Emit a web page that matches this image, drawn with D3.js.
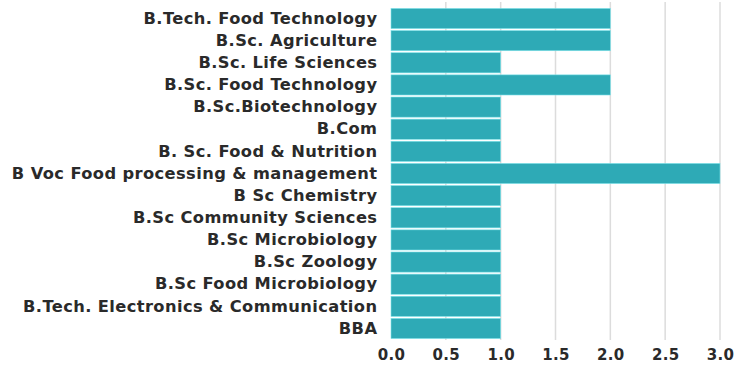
<!DOCTYPE html>
<html><head><meta charset="utf-8">
<script src="https://cdn.jsdelivr.net/npm/d3@7"></script>
<style>body{margin:0;background:#fff}svg{display:block}</style>
</head><body>
<svg id="c" width="751" height="366"></svg>
<script>
const categories = ["B.Tech. Food Technology","B.Sc. Agriculture","B.Sc. Life Sciences","B.Sc. Food Technology","B.Sc.Biotechnology","B.Com","B. Sc. Food & Nutrition","B Voc Food processing & management","B Sc Chemistry","B.Sc Community Sciences","B.Sc Microbiology","B.Sc Zoology","B.Sc Food Microbiology","B.Tech. Electronics & Communication","BBA"];
const values = [2,2,1,2,1,1,1,3,1,1,1,1,1,1,1];
const ticks = [0,0.5,1,1.5,2,2.5,3];

(function(){
const svg = d3.select("#c");
const mLeft = 391, mRight = 720, mTop = 8, mBottom = 339;
const x = d3.scaleLinear().domain([0,3]).range([mLeft,mRight]);
const y = d3.scaleBand().domain(categories).range([mTop,mBottom]).paddingInner(0.09).paddingOuter(0.02);
const font = "'DejaVu Sans', sans-serif";

svg.append("g").selectAll("line").data(ticks.filter(t=>t>0)).join("line")
  .attr("x1",d=>x(d)).attr("x2",d=>x(d)).attr("y1",2).attr("y2",mBottom+1)
  .attr("stroke","#dcdcdc").attr("stroke-width",1.5);

svg.append("g").selectAll("rect").data(categories).join("rect")
  .attr("x",x(0)).attr("y",d=>y(d)).attr("height",y.bandwidth())
  .attr("width",(d,i)=>x(values[i])-x(0)).attr("fill","#2eaab6")
  .attr("stroke","#7fe3ea").attr("stroke-width",0.6);

const ya = d3.axisLeft(y).tickSize(0).tickPadding(14);
const yg = svg.append("g").attr("transform",`translate(${mLeft},0)`).call(ya);
yg.select(".domain").remove();
const ls = 0.4;
const yt = yg.selectAll("text").attr("font-family",font).attr("font-weight",700).attr("font-size",14).attr("fill","#2a2a2a")
  .attr("letter-spacing",ls+"px").attr("dx", ls+"px");
let maxW = 0;
yt.each(function(){ maxW = Math.max(maxW, this.getComputedTextLength()); });
yt.attr("font-size", 14*368/maxW);

const xa = d3.axisBottom(x).tickValues(ticks).tickFormat(d3.format(".1f")).tickSize(0).tickPadding(10);
const xg = svg.append("g").attr("transform",`translate(0,${mBottom})`).call(xa);
xg.select(".domain").remove();
xg.selectAll("text").attr("font-family",font).attr("font-weight",700).attr("font-size",15).attr("fill","#2a2a2a")
  .attr("letter-spacing","0.3px");
})();
</script>
</body></html>
